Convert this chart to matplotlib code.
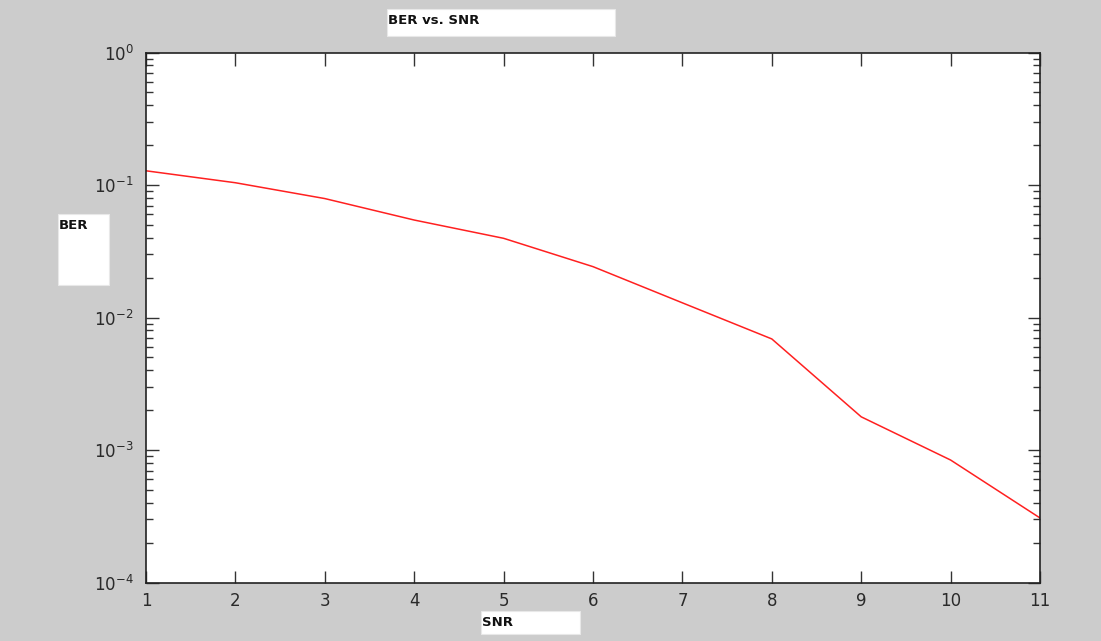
import matplotlib.pyplot as plt
from matplotlib.patches import Rectangle
import numpy as np

# values
snr = [1, 2, 3, 4, 5, 6, 7, 8, 9, 10, 11]
ber = [0.128, 0.104, 0.079, 0.0544, 0.0396, 0.0242, 0.0129, 0.00689, 0.00178, 0.00084, 0.000307]
xticks = list(range(1, 12))
yticks = [1e-4, 1e-3, 1e-2, 1e-1, 1e0]
ytick_labels = ['$10^{-4}$', '$10^{-3}$', '$10^{-2}$', '$10^{-1}$', '$10^{0}$']

W, H = 1101, 641


def box(fig, x0, y0, x1, y1, text, ty):
    # white label box in pixel coords (origin top-left)
    fig.patches.append(Rectangle((x0 / W, 1 - y1 / H), (x1 - x0) / W, (y1 - y0) / H,
                                 transform=fig.transFigure, facecolor='white',
                                 edgecolor='#e8e8e8', lw=0.8, zorder=0))
    fig.text((x0 + 1) / W, 1 - ty / H, text, ha='left', va='center',
             fontsize=9.5, fontweight='bold', family='DejaVu Sans', color='#111111')


def ber_plot():
    fig = plt.figure(figsize=(W / 100, H / 100), dpi=100, facecolor='#cccccc')
    ax = fig.add_axes([146 / W, 1 - 582.5 / H, (1040 - 146) / W, (582.5 - 52.5) / H])
    ax.semilogy(snr, ber, color='#ff2020', lw=1.1)
    ax.set_xlim(1, 11)
    ax.set_ylim(1e-4, 1)
    ax.set_xticks(xticks)
    ax.set_yticks(yticks)
    ax.set_yticklabels(ytick_labels)
    ax.tick_params(which='both', direction='in', top=True, right=True,
                   labelsize=12, labelcolor='#2a2a2a', color='#333333')
    ax.tick_params(which='major', length=9, width=1)
    ax.tick_params(which='minor', length=5, width=1)
    ax.tick_params(axis='x', which='minor', top=False, bottom=False)
    ax.tick_params(axis='x', pad=7)
    ax.tick_params(axis='y', pad=9)
    for s in ax.spines.values():
        s.set_linewidth(1.2)
        s.set_color('#222222')

    box(fig, 387, 9, 615, 36, 'BER vs. SNR', 21)
    box(fig, 58, 214, 109, 285, 'BER', 226)
    box(fig, 481, 611, 580, 634, 'SNR', 622)

    fig.savefig('out.png', dpi=100, facecolor=fig.get_facecolor())


if __name__ == '__main__':
    ber_plot()
